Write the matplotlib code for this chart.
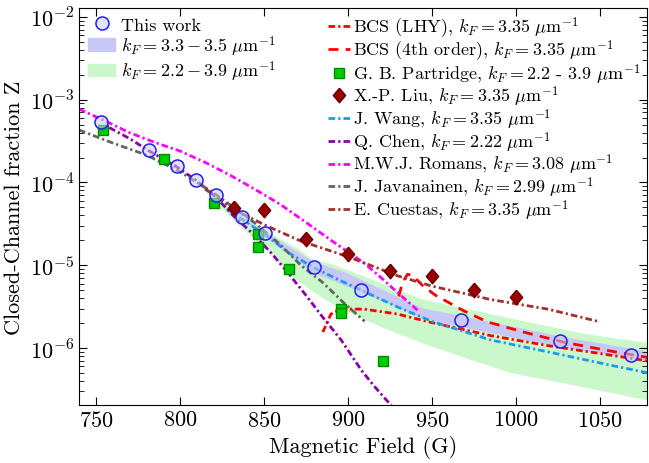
import matplotlib
matplotlib.use('Agg')
from matplotlib import pyplot as plt
from matplotlib.patches import Patch

plt.rcParams['font.family'] = 'serif'
plt.rcParams['font.serif'] = ['cmr10']
plt.rcParams['mathtext.fontset'] = 'cm'
plt.rcParams['axes.unicode_minus'] = False
plt.rcParams['axes.formatter.use_mathtext'] = True

# this work (circles)
tw_B = [753.2, 781.4, 798.2, 809.7, 821.3, 837.1, 850.8, 879.6, 907.7, 967.4, 1026.4, 1068.5]
tw_Z = [5.43e-4, 2.45e-4, 1.56e-4, 1.07e-4, 7.03e-5, 3.82e-5, 2.48e-5, 9.54e-6, 5.07e-6, 2.17e-6, 1.20e-6, 8.24e-7]

# kF = 3.3 - 3.5 band
lav_B = [836, 850.6, 865, 879, 899, 920, 943.5, 966, 1026, 1080]
lav_hi = [3.9e-5, 2.57e-5, 1.69e-5, 1.13e-5, 8.17e-6, 5.16e-6, 3.09e-6, 2.5e-6, 1.40e-6, 9.06e-7]
lav_lo = [3.75e-5, 2.23e-5, 1.34e-5, 8.17e-6, 5.64e-6, 3.72e-6, 2.34e-6, 1.84e-6, 1.03e-6, 7.05e-7]

# kF = 2.2 - 3.9 band
grn_B = [812, 821, 835, 849, 869, 879, 890, 899, 920, 943.5, 970, 996, 1040, 1080]
grn_hi = [9.5e-5, 6.9e-5, 4.36e-5, 2.72e-5, 1.65e-5, 1.18e-5, 1.05e-5, 8.95e-6, 6.1e-6, 3.97e-6,
          3.03e-6, 2.32e-6, 1.51e-6, 1.15e-6]
grn_lo = [9.0e-5, 6.0e-5, 3.03e-5, 1.71e-5, 6.8e-6, 4.87e-6, 3.49e-6, 2.81e-6, 1.8e-6, 1.17e-6,
          7.6e-7, 5.1e-7, 3.4e-7, 2.32e-7]

# BCS (LHY)
lhy_B = [885.1, 885.9, 889.9, 895.8, 909.7, 929.6, 949.4, 985.1, 1018.9, 1058.5, 1080]
lhy_Z = [1.56e-6, 1.69e-6, 2.57e-6, 2.95e-6, 2.95e-6, 2.57e-6, 2.04e-6, 1.41e-6, 1.07e-6, 8.07e-7, 6.9e-7]

# BCS (4th order)
bcs4_B = [930.3, 932.5, 935.5, 939, 944, 952, 969, 983, 1005, 1029, 1055, 1080]
bcs4_Z = [4.2e-6, 6.2e-6, 7.8e-6, 7.4e-6, 5.8e-6, 4.35e-6, 2.81e-6, 2.07e-6, 1.55e-6, 1.17e-6, 9.3e-7, 7.6e-7]

# G. B. Partridge
gbp_B = [754.3, 790.7, 820.4, 846.6, 846.6, 865.1, 895.7, 896.0, 920.7]
gbp_Z = [4.32e-4, 1.93e-4, 5.58e-5, 2.40e-5, 1.68e-5, 9.12e-6, 2.92e-6, 2.62e-6, 6.92e-7]

# X.-P. Liu
xpl_B = [832, 850, 875, 900, 925, 950, 975, 1000]
xpl_Z = [4.9e-5, 4.7e-5, 2.1e-5, 1.38e-5, 8.6e-6, 7.36e-6, 5.09e-6, 4.08e-6]

# J. Wang
jw_B = [828, 836, 852, 865, 880, 895, 907, 930, 950, 985, 1019, 1058, 1080]
jw_Z = [4.8e-5, 3.7e-5, 2.25e-5, 1.4e-5, 9.3e-6, 6.6e-6, 5.1e-6, 3.1e-6, 2.1e-6, 1.25e-6, 9.0e-7, 6.1e-7, 4.95e-7]

# Q. Chen
qc_B = [758, 770, 781, 798, 810, 821, 832, 845, 855, 865, 875, 885, 896, 908, 916, 926]
qc_Z = [4.6e-4, 3.4e-4, 2.45e-4, 1.55e-4, 1.05e-4, 6.8e-5, 3.93e-5, 2.25e-5, 1.36e-5, 7.8e-6,
        4.35e-6, 2.36e-6, 1.25e-6, 5.4e-7, 3.4e-7, 2.0e-7]

# M.W.J. Romans
mr_B = [740, 755, 770, 785, 800, 815, 830, 845, 860, 875, 890, 900, 910, 920, 930, 942]
mr_Z = [7.7e-4, 5.6e-4, 4.0e-4, 3.05e-4, 2.4e-4, 1.75e-4, 1.22e-4, 8.2e-5, 5.4e-5, 3.3e-5,
        2.0e-5, 1.45e-5, 1.05e-5, 7.0e-6, 4.6e-6, 2.8e-6]

# J. Javanainen
jj_B = [740, 760, 780, 800, 820, 835, 845, 860, 872, 885, 897, 910]
jj_Z = [4.3e-4, 3.0e-4, 2.15e-4, 1.35e-4, 7.5e-5, 4.5e-5, 3.2e-5, 1.75e-5, 1.0e-5, 6.2e-6, 3.6e-6, 2.1e-6]

# E. Cuestas
ec_B = [815, 820, 832, 852, 872, 900, 930, 950, 985, 1019, 1050]
ec_Z = [8.3e-5, 7.2e-5, 4.7e-5, 2.97e-5, 1.96e-5, 1.27e-5, 7.4e-6, 5.6e-6, 3.85e-6, 2.95e-6, 2.07e-6]

kf = r'$k_F = %s\ \mu\mathrm{m}^{-1}$'
dd = [2.4, 1.1, 0.8, 1.1]
lw = 2.0
lav = '#c8c8f7'
grn = '#cbf8cb'
diamond = [(0, 1), (0.85, 0), (0, -1), (-0.85, 0), (0, 1)]

fig = plt.figure(figsize=(6.49, 4.64), dpi=100)
ax = fig.add_axes([79/649, 58/464, 568/649, 397/464])
ax.set_yscale('log')

ax.fill_between(grn_B, grn_lo, grn_hi, color=grn, lw=0, zorder=1)
ax.fill_between(lav_B, lav_lo, lav_hi, color=lav, lw=0, zorder=1.5)

l1, = ax.plot(lhy_B, lhy_Z, color='#ff0000', lw=lw, dashes=dd, label='BCS (LHY), ' + kf % '3.35')
l2, = ax.plot(bcs4_B, bcs4_Z, color='#ff0000', lw=lw, dashes=[3.6, 2.6], label='BCS (4th order), ' + kf % '3.35')
l3, = ax.plot(gbp_B, gbp_Z, 's', ms=7, mfc='#00cc00', mec='#008a00', mew=1.0, zorder=3,
              label=r'G. B. Partridge, $k_F =$2.2 - 3.9 $\mu\mathrm{m}^{-1}$')
l4, = ax.plot(xpl_B, xpl_Z, marker=diamond, ls='none', ms=10.5, mfc='#990000', mec='#6a0000', mew=1.0,
              zorder=3, label='X.-P. Liu, ' + kf % '3.35')
l5, = ax.plot(jw_B, jw_Z, color='#1e9bf0', lw=lw, dashes=dd, label='J. Wang, ' + kf % '3.35')
l6, = ax.plot(qc_B, qc_Z, color='#8c00a8', lw=lw, dashes=dd, label='Q. Chen, ' + kf % '2.22')
l7, = ax.plot(mr_B, mr_Z, color='#ff00ff', lw=lw, dashes=dd, label='M.W.J. Romans, ' + kf % '3.08')
l8, = ax.plot(jj_B, jj_Z, color='#646464', lw=lw, dashes=dd, label='J. Javanainen, ' + kf % '2.99')
l9, = ax.plot(ec_B, ec_Z, color='#a33030', lw=lw, dashes=dd, label='E. Cuestas, ' + kf % '3.35')
c0, = ax.plot(tw_B, tw_Z, 'o', ms=9.4, mfc=(0.8, 0.8, 0.97, 0.55), mec='#2020ee', mew=1.1, zorder=4,
              label='This work')

ax.set_xlim(740, 1078)
ax.set_ylim(2.05e-7, 1.28e-2)
ax.set_xticks([750, 800, 850, 900, 950, 1000, 1050])
ax.set_yticks([1e-6, 1e-5, 1e-4, 1e-3, 1e-2])
ax.set_yticklabels([r'$10^{-6}$', r'$10^{-5}$', r'$10^{-4}$', r'$10^{-3}$', r'$10^{-2}$'])
ax.tick_params(which='both', direction='in', top=True, right=True, labelsize=16)
ax.tick_params(which='major', length=6)
ax.tick_params(which='minor', length=3.5)
ax.set_xlabel('Magnetic Field (G)', fontsize=16)
ax.set_ylabel('Closed-Channel fraction Z', fontsize=16)

leg1 = ax.legend([c0, Patch(color=lav), Patch(color=grn)],
                 ['This work', kf % '3.3 - 3.5', kf % '2.2 - 3.9'],
                 loc='upper left', frameon=False, fontsize=13, handlelength=1.5,
                 handletextpad=0.35, labelspacing=0.03, borderpad=0.25, borderaxespad=0.25)
ax.add_artist(leg1)
ax.legend(handles=[l1, l2, l3, l4, l5, l6, l7, l8, l9], loc='upper right', frameon=False,
          fontsize=13, handlelength=1.2, handletextpad=0.2, labelspacing=-0.1,
          borderpad=0.15, borderaxespad=0.2)

plt.savefig('out.png', dpi=100)
